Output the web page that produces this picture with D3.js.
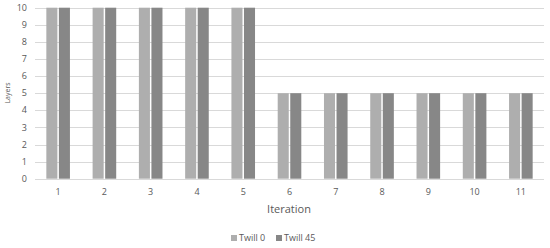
<!DOCTYPE html>
<html>
<head>
<meta charset="utf-8">
<script src="https://cdn.jsdelivr.net/npm/d3@7"></script>
<style>
  body { margin: 0; background: #fff; }
  text { font-family: "Open Sans", "Liberation Sans", sans-serif; fill: #595959; }
</style>
</head>
<body>
<svg id="chart" width="550" height="248"></svg>
<script>
var iterations = ['1', '2', '3', '4', '5', '6', '7', '8', '9', '10', '11'];
var twill0 = [10, 10, 10, 10, 10, 5, 5, 5, 5, 5, 5];
var twill45 = [10, 10, 10, 10, 10, 5, 5, 5, 5, 5, 5];
var seriesNames = ['Twill 0', 'Twill 45'];
var yTicks = [0, 1, 2, 3, 4, 5, 6, 7, 8, 9, 10];

var colors = ['#aeaeae', '#878787'];
var svg = d3.select('#chart');

var x = d3.scaleBand()
  .domain(iterations)
  .range([35, 544])
  .paddingInner(0.49)
  .paddingOuter(0.245);

var xInner = d3.scaleBand()
  .domain(seriesNames)
  .range([0, x.bandwidth()])
  .paddingInner(0.12);

var y = d3.scaleLinear()
  .domain([0, 10])
  .range([178.7, 7.7]);

// gridlines
svg.append('g')
  .selectAll('line')
  .data(yTicks)
  .enter()
  .append('line')
    .attr('x1', 35)
    .attr('x2', 544)
    .attr('y1', function(d) { return Math.round(y(d)) + 0.5; })
    .attr('y2', function(d) { return Math.round(y(d)) + 0.5; })
    .attr('stroke', '#d9d9d9')
    .attr('stroke-width', 1);

// y tick labels
svg.append('g')
  .selectAll('text')
  .data(yTicks)
  .enter()
  .append('text')
    .attr('x', 27)
    .attr('y', function(d) { return y(d); })
    .attr('dy', '0.35em')
    .attr('text-anchor', 'end')
    .style('font-size', '9px')
    .text(function(d) { return d; });

// bars
var data = iterations.map(function(it, i) {
  return { it: it, values: [twill0[i], twill45[i]] };
});

var groups = svg.append('g')
  .selectAll('g')
  .data(data)
  .enter()
  .append('g')
    .attr('transform', function(d) { return 'translate(' + x(d.it) + ',0)'; });

groups.selectAll('rect')
  .data(function(d) { return d.values.map(function(v, j) { return { name: seriesNames[j], v: v, j: j }; }); })
  .enter()
  .append('rect')
    .attr('x', function(d) { return xInner(d.name); })
    .attr('y', function(d) { return y(d.v); })
    .attr('width', xInner.bandwidth())
    .attr('height', function(d) { return y(0) - y(d.v); })
    .attr('fill', function(d) { return colors[d.j]; });

// x axis labels
svg.append('g')
  .selectAll('text')
  .data(iterations)
  .enter()
  .append('text')
    .attr('x', function(d) { return x(d) + x.bandwidth() / 2; })
    .attr('y', 195)
    .attr('text-anchor', 'middle')
    .style('font-size', '9px')
    .text(function(d) { return d; });

// axis titles
svg.append('text')
  .attr('x', 289)
  .attr('y', 213)
  .attr('text-anchor', 'middle')
  .style('font-size', '11px')
  .text('Iteration');

svg.append('text')
  .attr('transform', 'translate(10,93) rotate(-90)')
  .attr('text-anchor', 'middle')
  .style('font-size', '7px')
  .text('Layers');

// legend
var legendX = [231, 276];
var legend = svg.append('g')
  .selectAll('g')
  .data(seriesNames)
  .enter()
  .append('g')
    .attr('transform', function(d, i) { return 'translate(' + legendX[i] + ',235)'; });

legend.append('rect')
  .attr('width', 6)
  .attr('height', 6)
  .attr('fill', function(d, i) { return colors[i]; });

legend.append('text')
  .attr('x', 8)
  .attr('y', 6)
  .style('font-size', '9px')
  .text(function(d) { return d; });
</script>
</body>
</html>
